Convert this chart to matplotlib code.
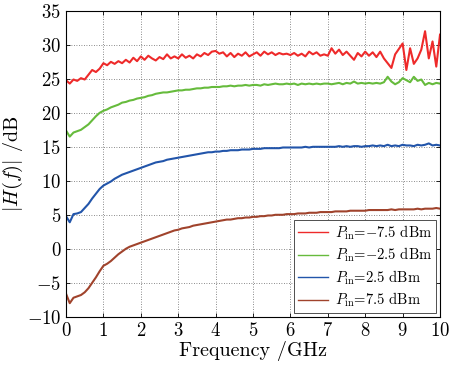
import numpy as np
import matplotlib
matplotlib.use("Agg")
import matplotlib.pyplot as plt

plt.rcParams["font.family"] = "serif"
plt.rcParams["font.serif"] = ["cmr10", "DejaVu Serif"]
plt.rcParams["mathtext.fontset"] = "cm"
plt.rcParams["axes.formatter.use_mathtext"] = True

# frequency sampling grid (GHz), one reading every 0.1 GHz
freq = np.round(np.arange(0, 101) * 0.1, 1)

# |H(f)| in dB
h_m75 = [24.8, 24.3, 24.9, 24.7, 25.1, 24.9, 25.6, 26.3, 26.0, 26.5,
         27.3, 27.0, 27.5, 27.2, 27.6, 27.3, 27.8, 27.4, 28.1, 27.6,
         28.3, 27.8, 28.4, 28.0, 27.7, 28.2, 27.9, 28.6, 28.0, 28.3,
         28.0, 28.6, 28.1, 28.4, 28.0, 28.6, 28.3, 28.8, 28.5, 29.0,
         29.1, 28.7, 28.9, 28.3, 28.8, 28.2, 28.7, 28.4, 28.9, 28.3,
         28.6, 28.9, 28.4, 29.0, 28.6, 28.9, 28.5, 28.8, 28.6, 28.7,
         28.5, 28.8, 28.4, 28.7, 28.3, 29.0, 28.6, 28.9, 28.4, 28.6,
         28.4, 29.5, 28.7, 29.3, 28.5, 29.0, 28.4, 27.8, 28.8, 28.3,
         29.0, 28.4, 28.9, 28.2, 29.0, 28.0, 27.3, 26.6, 28.6, 29.4,
         30.2, 26.3, 29.5, 27.2, 28.0, 29.3, 32.0, 28.0, 30.5, 26.8,
         31.5]
h_m25 = [17.4, 16.5, 17.1, 17.3, 17.5, 17.9, 18.3, 18.9, 19.5, 20.0,
         20.3, 20.5, 20.8, 21.0, 21.2, 21.5, 21.6, 21.8, 21.9, 22.1,
         22.2, 22.3, 22.5, 22.6, 22.8, 22.9, 23.0, 23.0, 23.1, 23.2,
         23.3, 23.3, 23.4, 23.4, 23.5, 23.6, 23.6, 23.7, 23.7, 23.8,
         23.8, 23.8, 23.9, 23.9, 24.0, 23.9, 24.0, 24.0, 24.1, 24.0,
         24.1, 24.1, 24.0, 24.2, 24.1, 24.2, 24.3, 24.2, 24.2, 24.3,
         24.2, 24.3, 24.1, 24.3, 24.2, 24.3, 24.2, 24.3, 24.2, 24.3,
         24.3, 24.2, 24.3, 24.4, 24.2, 24.4, 24.3, 24.6, 24.3, 24.4,
         24.3, 24.4, 24.3, 24.4, 24.3, 24.5, 25.3, 24.6, 24.2, 24.5,
         25.1, 24.8, 24.5, 25.3, 24.7, 24.9, 24.1, 24.4, 24.2, 24.4,
         24.3]
h_p25 = [4.8, 3.9, 5.1, 5.2, 5.4, 6.0, 6.6, 7.4, 8.1, 8.8,
         9.3, 9.6, 9.9, 10.3, 10.6, 10.9, 11.1, 11.3, 11.5, 11.7,
         11.9, 12.1, 12.3, 12.5, 12.7, 12.8, 12.9, 13.1, 13.2, 13.3,
         13.4, 13.5, 13.6, 13.7, 13.8, 13.9, 14.0, 14.1, 14.2, 14.2,
         14.3, 14.3, 14.4, 14.4, 14.5, 14.5, 14.5, 14.6, 14.6, 14.6,
         14.7, 14.7, 14.7, 14.8, 14.8, 14.8, 14.8, 14.8, 14.9, 14.9,
         14.9, 14.9, 14.9, 14.9, 15.0, 14.9, 15.0, 15.0, 15.0, 15.0,
         15.0, 15.0, 15.0, 15.1, 15.0, 15.1, 15.0, 15.1, 15.1, 15.0,
         15.1, 15.1, 15.2, 15.1, 15.2, 15.1, 15.3, 15.1, 15.2, 15.1,
         15.3, 15.2, 15.2, 15.1, 15.3, 15.2, 15.3, 15.5, 15.2, 15.3,
         15.2]
h_p75 = [-6.6, -8.0, -7.2, -7.0, -6.8, -6.4, -5.8, -5.0, -4.2, -3.3,
         -2.5, -2.2, -1.8, -1.3, -0.8, -0.4, 0.0, 0.3, 0.5, 0.7,
         0.9, 1.1, 1.3, 1.5, 1.7, 1.9, 2.1, 2.3, 2.5, 2.7,
         2.8, 3.0, 3.1, 3.2, 3.4, 3.5, 3.6, 3.7, 3.8, 3.9,
         4.0, 4.1, 4.2, 4.3, 4.3, 4.4, 4.5, 4.5, 4.6, 4.6,
         4.7, 4.7, 4.8, 4.8, 4.9, 4.9, 5.0, 5.0, 5.0, 5.1,
         5.1, 5.1, 5.2, 5.2, 5.2, 5.3, 5.3, 5.3, 5.4, 5.4,
         5.4, 5.4, 5.5, 5.5, 5.5, 5.5, 5.6, 5.6, 5.6, 5.6,
         5.6, 5.7, 5.7, 5.7, 5.7, 5.7, 5.7, 5.8, 5.7, 5.8,
         5.8, 5.8, 5.8, 5.8, 5.9, 5.8, 5.9, 5.9, 5.9, 6.0,
         5.9]

labels = [r"$P_{\rm in}$=$-$7.5 dBm",
          r"$P_{\rm in}$=$-$2.5 dBm",
          r"$P_{\rm in}$=2.5 dBm",
          r"$P_{\rm in}$=7.5 dBm"]
colors = ["#ee2a2a", "#66bb3c", "#2255aa", "#a0432c"]

fig = plt.figure(figsize=(4.49, 3.74), dpi=100)
ax = fig.add_axes([0.147, 0.153, 0.833, 0.818])

for h, lab, c in zip([h_m75, h_m25, h_p25, h_p75], labels, colors):
    ax.plot(freq, h, color=c, lw=1.5, label=lab)

ax.set_xlim(0, 10)
ax.set_ylim(-10, 35)
ax.set_xticks(range(0, 11))
ax.set_yticks(range(-10, 36, 5))
ax.tick_params(direction="in", top=True, right=True, labelsize=13.5, length=3, width=0.6)
ax.grid(True, color="0.4", linestyle=(0, (1, 2)), lw=0.6)
for s in ax.spines.values():
    s.set_linewidth(0.8)

ax.set_xlabel("Frequency /GHz", fontsize=14.5, labelpad=1)
ax.set_ylabel(r"$|H(f)|$ /dB", fontsize=14.5, labelpad=1)

leg = ax.legend(loc="lower right", fontsize=10.5, fancybox=False, framealpha=1,
                edgecolor="0.2", handlelength=2.1, labelspacing=0.28,
                borderaxespad=0.25, handletextpad=0.5, borderpad=0.25)
leg.get_frame().set_linewidth(0.6)
for ln in leg.get_lines():
    ln.set_linewidth(1.0)

fig.savefig("out.png", dpi=100)
